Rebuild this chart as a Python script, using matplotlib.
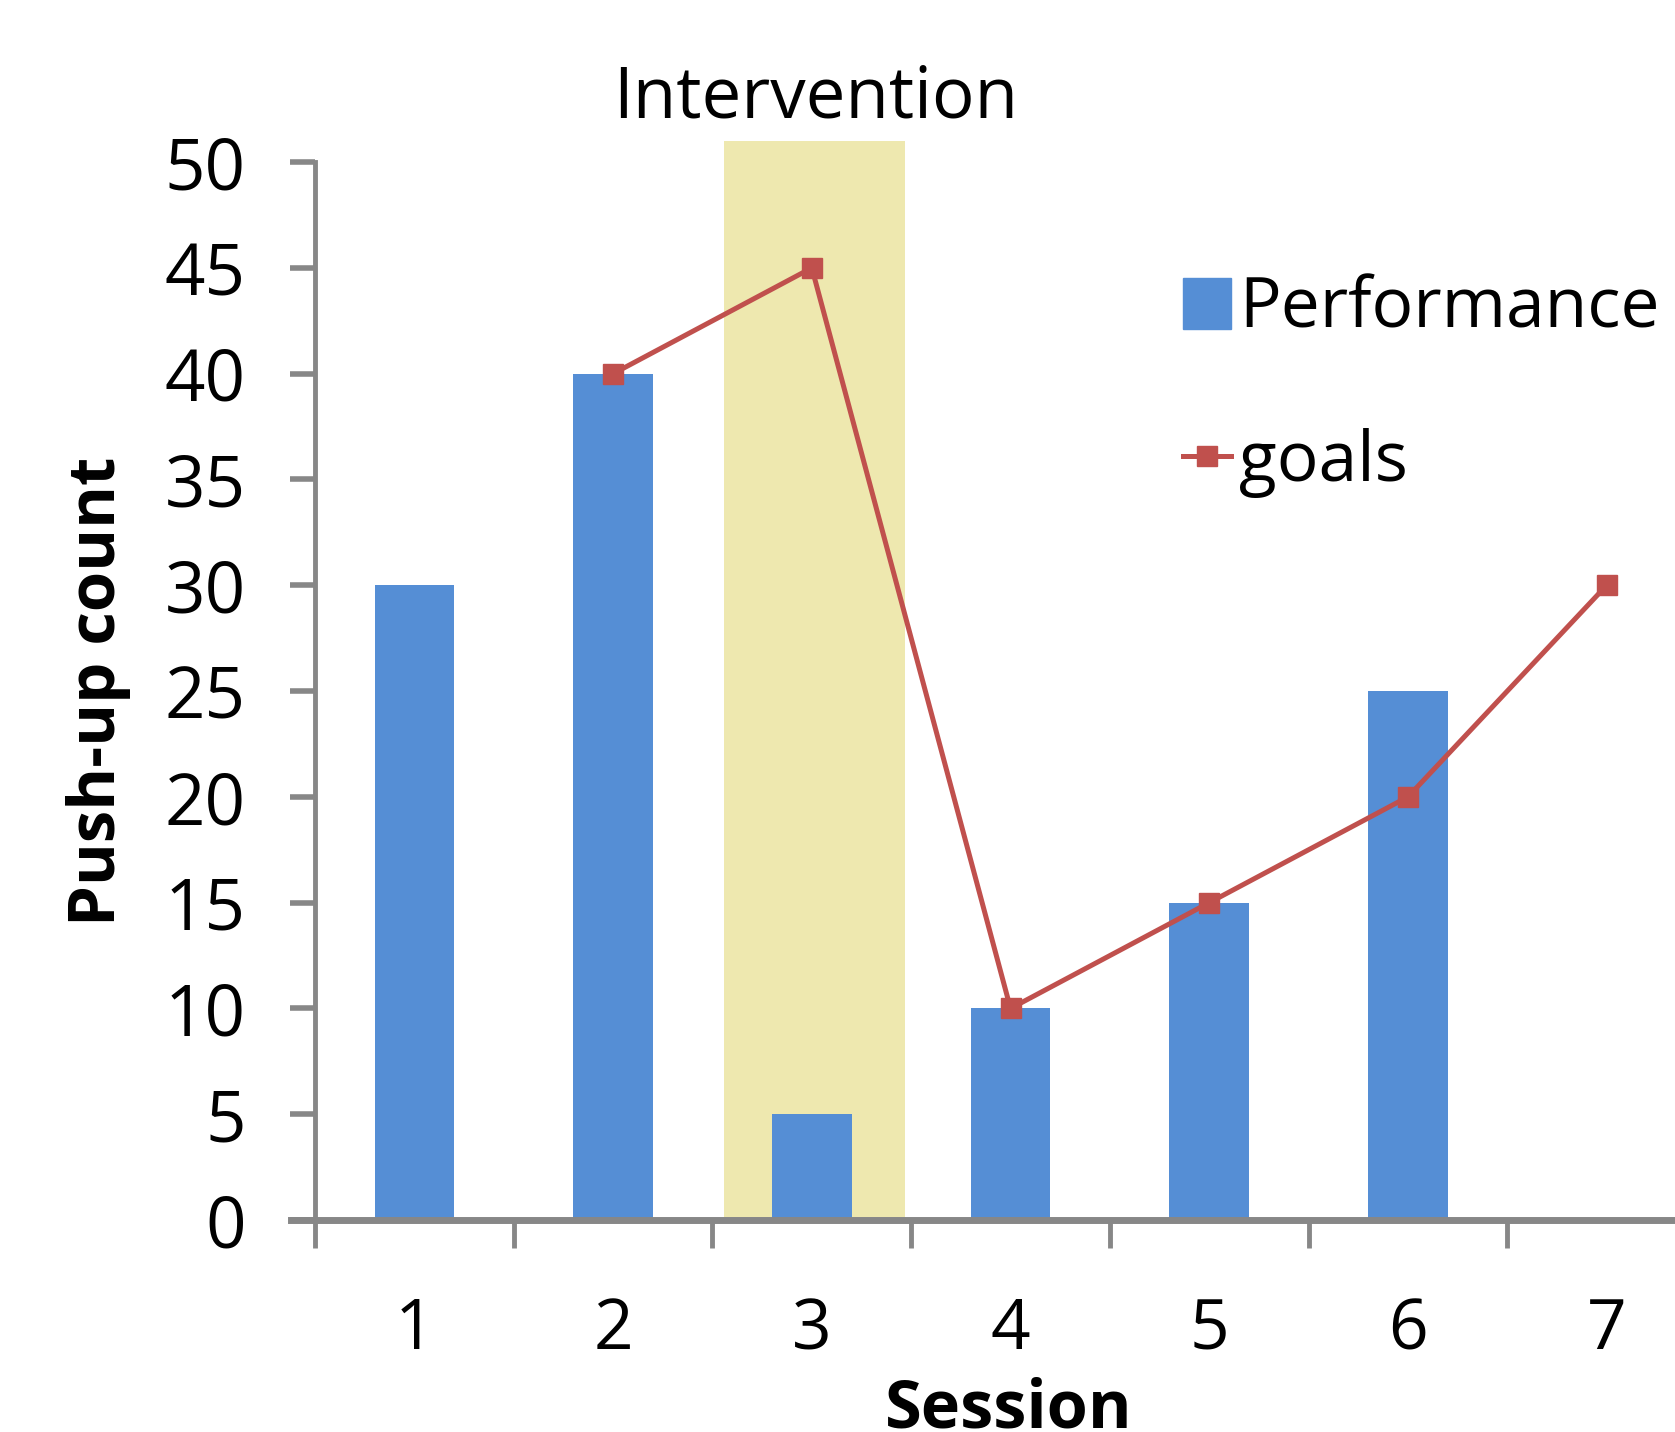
import matplotlib
matplotlib.use("Agg")
import matplotlib.pyplot as plt
from matplotlib.lines import Line2D
from matplotlib.patches import Patch

# ----- Data -------------------------------------------------

sessions = [1, 2, 3, 4, 5, 6, 7]
performance = [30, 40, 5, 10, 15, 25, 0]
goal_sessions = [2, 3, 4, 5, 6, 7]
goals = [40, 45, 10, 15, 20, 30]
intervention_span = (2.56, 3.47)
y_ticks = [0, 5, 10, 15, 20, 25, 30, 35, 40, 45, 50]

bar_color = "#558ED5"
goal_color = "#C0504D"
band_color = "#EEE8AF"
axis_color = "#878787"

# ----- Plot -------------------------------------------------

plt.rcParams['font.family'] = ['Open Sans', 'DejaVu Sans']

fig = plt.figure(figsize=(16.75, 14.32), dpi=100)
ax = fig.add_axes([0.1881, 0.1480, 0.8304, 0.7388])

# shaded intervention session, slightly taller than the axis
ax.axvspan(*intervention_span, ymin=0, ymax=51 / 50, color=band_color,
           zorder=0, clip_on=False, lw=0)

ax.bar(sessions, performance, width=0.4, color=bar_color, zorder=2)
ax.plot(goal_sessions, goals, color=goal_color, lw=3.6, marker='s',
        markersize=14, zorder=3, clip_on=False)

ax.set_xlim(0.5, 7.5)
ax.set_ylim(0, 50)

# spines
for side in ['top', 'right']:
    ax.spines[side].set_visible(False)
ax.spines['left'].set_color(axis_color)
ax.spines['left'].set_linewidth(3.5)
ax.spines['bottom'].set_color(axis_color)
ax.spines['bottom'].set_linewidth(5)
ax.spines['bottom'].set_bounds(0.38, 7.5)

# y ticks
ax.set_yticks(y_ticks)
ax.tick_params(axis='y', length=18, width=4, color=axis_color, pad=32,
               labelsize=51)

# x: labels at the sessions, tick marks between them
ax.set_xticks(sessions)
ax.set_xticks([s - 0.5 for s in sessions], minor=True)
ax.tick_params(axis='x', which='major', length=0, pad=55, labelsize=50)
ax.tick_params(axis='x', which='minor', length=20, width=3.5,
               color=axis_color)

ax.set_ylabel('Push-up count', fontsize=47, fontweight='bold')
ax.yaxis.set_label_coords(-0.156, 0.5)
ax.yaxis.label.set_va('center')
ax.set_xlabel('Session', fontsize=48, fontweight='bold')
ax.xaxis.set_label_coords(0.499, -0.18)
ax.xaxis.label.set_va('center')

ax.text(3.02, 52.1, 'Intervention', fontsize=51, ha='center',
        va='baseline', clip_on=False)

handles = [Patch(color=bar_color, label='Performance'),
           Line2D([], [], color=goal_color, lw=3.6, marker='s',
                  markersize=14, label='goals')]
ax.legend(handles=handles, loc='upper left', bbox_to_anchor=(0.706, 0.808),
          bbox_transform=fig.transFigure, frameon=False, fontsize=50,
          handlelength=0.7, handleheight=0.75, handletextpad=0.12,
          labelspacing=1.2, borderpad=0, borderaxespad=0)

fig.savefig('out.png', dpi=100)
